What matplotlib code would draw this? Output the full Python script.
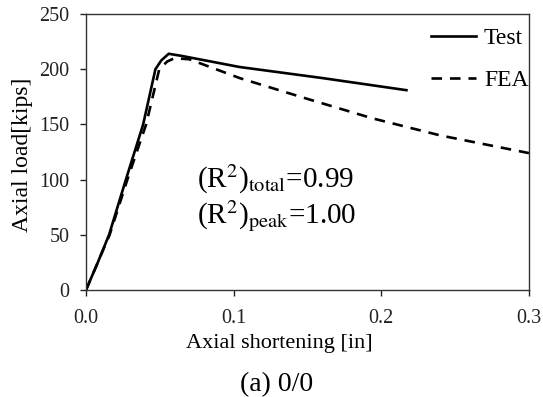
import matplotlib
matplotlib.use("Agg")
import matplotlib.pyplot as plt

plt.rcParams['font.family'] = ['Liberation Serif', 'DejaVu Serif']
plt.rcParams['mathtext.fontset'] = 'stix'

# test curve
test_x = [0, 0.008, 0.0156, 0.027, 0.0387, 0.047, 0.051, 0.056, 0.065, 0.104, 0.16, 0.217]
test_y = [0, 25, 50, 100, 150, 200, 208, 214, 212, 202, 192, 181]

# FEA curve
fea_x = [0, 0.016, 0.028, 0.0407, 0.0496, 0.055, 0.06, 0.07, 0.104, 0.149, 0.194, 0.24, 0.3]
fea_y = [0, 50, 100, 150, 200, 207, 210, 209, 192, 173.5, 155.5, 140, 124]

xticks = [0.0, 0.1, 0.2, 0.3]
yticks = [0, 50, 100, 150, 200, 250]

fig = plt.figure(figsize=(5.43, 3.97), dpi=100)
ax = fig.add_axes([0.1584, 0.2695, 0.8158, 0.6952])

ax.plot(test_x, test_y, color='black', lw=1.9, label='Test')
ax.plot(fea_x, fea_y, color='black', lw=1.9, ls=(0, (4, 3)), label='FEA')

ax.set_xlim(0, 0.3)
ax.set_ylim(0, 250)
ax.set_xticks(xticks)
ax.set_xticklabels(['%.1f' % v for v in xticks])
ax.set_yticks(yticks)
ax.tick_params(direction='out', length=4, width=1, labelsize=14.5, colors='#222222')
ax.tick_params(axis='x', pad=10)
ax.tick_params(axis='y', pad=8)
for s in ax.spines.values():
    s.set_linewidth(1)
    s.set_color('#333333')

ax.set_xlabel('Axial shortening [in]', fontsize=16)
ax.xaxis.set_label_coords(0.436, -0.16)
ax.set_ylabel('Axial load[kips]', fontsize=17)
ax.yaxis.set_label_coords(-0.12, 0.489)

ax.text(0.075, 100, r'(R$^2$)$_{\mathrm{total}}$=0.99', fontsize=21, va='center')
ax.text(0.075, 67, r'(R$^2$)$_{\mathrm{peak}}$=1.00', fontsize=21, va='center')

ax.legend(loc='upper right', bbox_to_anchor=(1.02, 0.985), frameon=False, fontsize=17,
          handlelength=1.9, handletextpad=0.35, labelspacing=0.88, borderaxespad=0.2,
          borderpad=0.2)

fig.text(0.51, 0.03, '(a) 0/0', fontsize=20, ha='center', va='center')

fig.savefig('out.png', dpi=100)
